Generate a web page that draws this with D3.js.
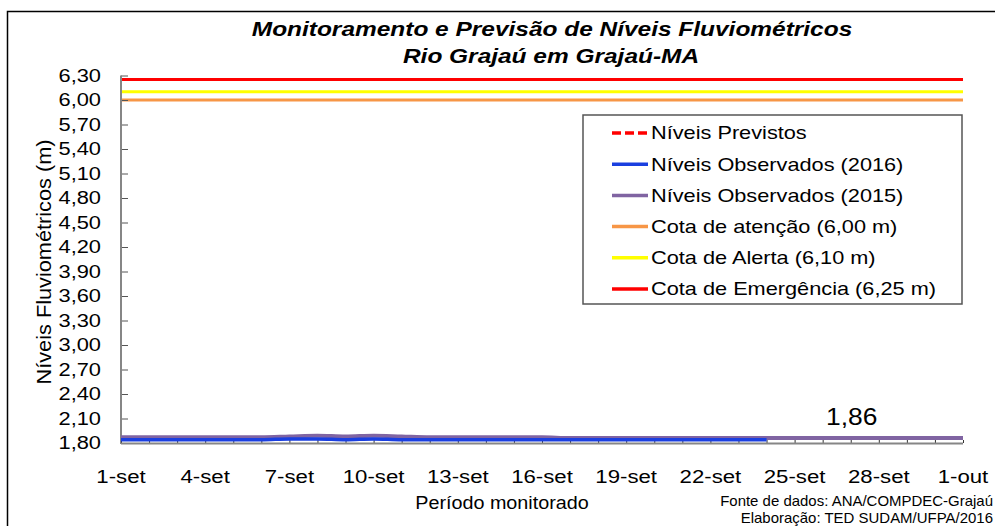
<!DOCTYPE html>
<html>
<head>
<meta charset="utf-8">
<script src="https://cdn.jsdelivr.net/npm/d3@7"></script>
<style>
    body { margin: 0; background: #fff; }
    svg { display: block; font-family: Arial, "Liberation Sans", sans-serif; }
</style>
</head>
<body>
<div id="chart"></div>
<script>
// dias do periodo monitorado
const dias = ["1-set", "2-set", "3-set", "4-set", "5-set", "6-set", "7-set", "8-set", "9-set", "10-set",
    "11-set", "12-set", "13-set", "14-set", "15-set", "16-set", "17-set", "18-set", "19-set", "20-set",
    "21-set", "22-set", "23-set", "24-set", "25-set", "26-set", "27-set", "28-set", "29-set", "30-set", "1-out"];

const obs2015 = [1.87, 1.87, 1.87, 1.87, 1.87, 1.87, 1.88, 1.89, 1.88, 1.89,
    1.88, 1.87, 1.87, 1.87, 1.87, 1.87, 1.86, 1.86, 1.86, 1.86,
    1.86, 1.86, 1.86, 1.86, 1.86, 1.86, 1.86, 1.86, 1.86, 1.86, 1.86];

const obs2016 = [1.84, 1.84, 1.84, 1.84, 1.84, 1.84, 1.85, 1.85, 1.84, 1.85,
    1.84, 1.84, 1.84, 1.84, 1.84, 1.84, 1.84, 1.84, 1.84, 1.84,
    1.84, 1.84, 1.84, 1.84];

const previstos = [];

const cotas = [
    { nome: "Cota de atenção (6,00 m)", valor: 6.00, cor: "#f79646" },
    { nome: "Cota de Alerta (6,10 m)", valor: 6.10, cor: "#ffff00" },
    { nome: "Cota de Emergência (6,25 m)", valor: 6.25, cor: "#ff0000" },
];

const yTicks = [1.80, 2.10, 2.40, 2.70, 3.00, 3.30, 3.60, 3.90, 4.20, 4.50, 4.80, 5.10, 5.40, 5.70, 6.00, 6.30];
const xTickLabels = ["1-set", "4-set", "7-set", "10-set", "13-set", "16-set", "19-set", "22-set", "25-set", "28-set", "1-out"];
const rotuloValor = { dia: "27-set", valor: 1.86, texto: "1,86" };

const width = 995, height = 526;
const margin = { top: 75.5, right: 32, bottom: 83, left: 121 };

const svg = d3.select("#chart").append("svg")
    .attr("width", width)
    .attr("height", height);

// texto com fonte um pouco mais larga (como no original)
function addText(parent, px, py, txt, size, sx, anchor) {
    return parent.append("text")
        .attr("transform", `translate(${px},${py}) scale(${sx},1)`)
        .attr("text-anchor", anchor || "start")
        .attr("font-size", size)
        .text(txt);
}

// moldura
svg.append("rect")
    .attr("x", 7.5).attr("y", 11.5)
    .attr("width", 1000).attr("height", 530)
    .attr("fill", "none").attr("stroke", "#000").attr("stroke-width", 1.5);

const x = d3.scalePoint()
    .domain(dias)
    .range([margin.left, width - margin.right]);

const y = d3.scaleLinear()
    .domain([1.80, 6.30])
    .range([height - margin.bottom, margin.top]);

const fmt = v => d3.format(".2f")(v).replace(".", ",");

// titulo
addText(svg, 552, 36, "Monitoramento e Previsão de Níveis Fluviométricos", 21, 1.165, "middle")
    .attr("font-weight", "bold").attr("font-style", "italic");
addText(svg, 551, 63, "Rio Grajaú em Grajaú-MA", 21, 1.165, "middle")
    .attr("font-weight", "bold").attr("font-style", "italic");

// cotas de referencia
svg.selectAll("line.cota")
    .data(cotas)
    .enter()
    .append("line")
    .attr("class", "cota")
    .attr("x1", x(dias[0]))
    .attr("x2", x(dias[dias.length - 1]))
    .attr("y1", d => y(d.valor))
    .attr("y2", d => y(d.valor))
    .attr("stroke", d => d.cor)
    .attr("stroke-width", 3);

// eixo y
const yAxis = svg.append("g")
    .attr("transform", `translate(${margin.left},0)`)
    .call(d3.axisRight(y).tickValues(yTicks).tickSize(7).tickFormat(""));
yAxis.select(".domain").remove();
yAxis.selectAll(".tick line").attr("stroke", "#555").attr("stroke-width", 1);

yTicks.forEach(function (t) {
    addText(svg, 101, y(t), fmt(t), 18.5, 1.18, "end").attr("dy", "0.35em");
});

svg.append("line")
    .attr("x1", margin.left).attr("x2", margin.left)
    .attr("y1", y(6.30)).attr("y2", y(1.80) + 1)
    .attr("stroke", "#868686").attr("stroke-width", 2);

// eixo x
const xAxis = svg.append("g")
    .attr("transform", `translate(0,${y(1.80)})`)
    .call(d3.axisTop(x).tickSize(3).tickFormat(""));
xAxis.select(".domain").remove();
xAxis.selectAll(".tick line").attr("stroke", "#333");

svg.append("line")
    .attr("x1", margin.left).attr("x2", x(dias[dias.length - 1]))
    .attr("y1", y(1.80) + 0.5).attr("y2", y(1.80) + 0.5)
    .attr("stroke", "#868686").attr("stroke-width", 2);

xTickLabels.forEach(function (d) {
    addText(svg, x(d), 483, d, 18.5, 1.2, "middle");
});

// series
const line = d3.line()
    .x((d, i) => x(dias[i]))
    .y(d => y(d))
    .curve(d3.curveMonotoneX);

svg.append("path")
    .datum(obs2015)
    .attr("fill", "none")
    .attr("stroke", "#8064a2")
    .attr("stroke-width", 4)
    .attr("d", line);

svg.append("path")
    .datum(obs2016)
    .attr("fill", "none")
    .attr("stroke", "#1a3fe0")
    .attr("stroke-width", 3.5)
    .attr("d", line);

svg.append("path")
    .datum(previstos)
    .attr("fill", "none")
    .attr("stroke", "#ff0000")
    .attr("stroke-width", 3)
    .attr("stroke-dasharray", "8,4")
    .attr("d", line);

addText(svg, x(rotuloValor.dia) + 1, y(rotuloValor.valor) - 13, rotuloValor.texto, 24, 1.1, "middle");

// titulos dos eixos
svg.append("text")
    .attr("transform", "translate(51,262) rotate(-90)")
    .attr("text-anchor", "middle")
    .attr("font-size", 20)
    .attr("textLength", 245)
    .attr("lengthAdjust", "spacingAndGlyphs")
    .text("Níveis Fluviométricos (m)");

addText(svg, 502, 509, "Período monitorado", 17.5, 1.13, "middle");

addText(svg, 993, 506, "Fonte de dados: ANA/COMPDEC-Grajaú", 14, 1.07, "end");
addText(svg, 993, 523, "Elaboração: TED SUDAM/UFPA/2016", 14, 1.07, "end");

// legenda
const legendItems = [
    { nome: "Níveis Previstos", cor: "#ff0000", dash: "9,4" },
    { nome: "Níveis Observados (2016)", cor: "#1a3fe0", dash: null },
    { nome: "Níveis Observados (2015)", cor: "#8064a2", dash: null },
].concat(cotas.map(c => ({ nome: c.nome, cor: c.cor, dash: null })));

const legend = svg.append("g").attr("transform", "translate(583,115)");
legend.append("rect")
    .attr("width", 379).attr("height", 189)
    .attr("fill", "#fff").attr("stroke", "#555").attr("stroke-width", 1.5);

const li = legend.selectAll("g.item")
    .data(legendItems)
    .enter()
    .append("g")
    .attr("class", "item")
    .attr("transform", (d, i) => `translate(0,${18 + i * 31.2})`);

li.append("line")
    .attr("x1", 29).attr("x2", 65)
    .attr("stroke", d => d.cor)
    .attr("stroke-width", 3.5)
    .attr("stroke-dasharray", d => d.dash);

li.each(function (d) {
    addText(d3.select(this), 68, 0, d.nome, 18.5, 1.175).attr("dy", "0.35em");
});
</script>
</body>
</html>
